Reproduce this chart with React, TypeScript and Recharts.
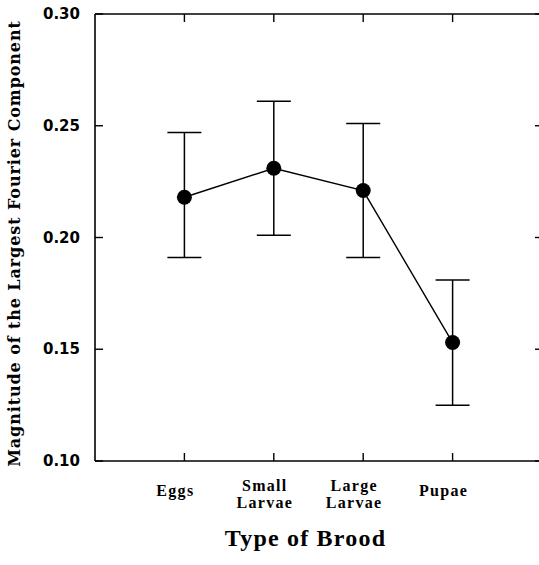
import { LineChart, Line, XAxis, YAxis, ErrorBar, Label } from 'recharts';

const categories = ['Eggs', 'Small Larvae', 'Large Larvae', 'Pupae'];
const positions = [1, 2, 3, 4];
const means = [0.218, 0.231, 0.221, 0.153];
const lower = [0.191, 0.201, 0.191, 0.125];
const upper = [0.247, 0.261, 0.251, 0.181];
const yTicks = [0.1, 0.15, 0.2, 0.25, 0.3];

const data = positions.map((x, i) => ({
  x,
  y: means[i],
  err: [means[i] - lower[i], upper[i] - means[i]],
}));

const serif = '"Liberation Serif", "Times New Roman", serif';
const CHART_W = 545;
const M = { top: 13, right: 3, bottom: 0, left: 0 };
const PLOT_TOP = M.top + 1; // top axis is 1px tall
const PLOT_RIGHT = CHART_W - M.right;
const TICK = 8;
const MARGIN_X = 24;
const MARGIN_Y = 15;

// bottom axis: inward ticks (bottom + top frame) and category label
const CategoryTick = (props: any) => {
  const { x, y, index } = props;
  const axisY = y - MARGIN_X;
  const words = categories[index].split(' ');
  const lx = x - 9;
  return (
    <g>
      <line x1={x} x2={x} y1={axisY} y2={axisY - TICK} stroke="#000" strokeWidth={1.4} />
      <line x1={x} x2={x} y1={PLOT_TOP} y2={PLOT_TOP + TICK} stroke="#000" strokeWidth={1.4} />
      <text
        x={lx}
        y={y}
        textAnchor="middle"
        fontFamily={serif}
        fontWeight="bold"
        fontSize={16}
        letterSpacing={1.3}
        fill="#000"
      >
        {words.length > 1 ? (
          <>
            <tspan x={lx} dy={6}>{words[0]}</tspan>
            <tspan x={lx} dy={17}>{words[1]}</tspan>
          </>
        ) : (
          <tspan x={lx} dy={11}>{words[0]}</tspan>
        )}
      </text>
    </g>
  );
};

// left axis: inward ticks (left + right frame) and value label
const LeftTick = (props: any) => {
  const { x, y, payload } = props;
  const axisX = x + MARGIN_Y;
  return (
    <g>
      <line x1={axisX} x2={axisX + TICK} y1={y} y2={y} stroke="#000" strokeWidth={1.4} />
      <line x1={PLOT_RIGHT} x2={PLOT_RIGHT - 7} y1={y} y2={y} stroke="#000" strokeWidth={1.4} />
      <text
        x={x}
        y={y}
        dy={5}
        textAnchor="end"
        fontFamily='"DejaVu Sans", sans-serif'
        fontWeight="bold"
        fontSize={15}
        fill="#000"
      >
        {Number(payload.value).toFixed(2)}
      </text>
    </g>
  );
};

export default function App() {
  return (
    <div style={{ position: 'absolute', left: 0, top: 0, width: 539, height: 565, overflow: 'hidden', background: '#fff' }}>
      <LineChart width={CHART_W} height={565} data={data} margin={M}>
        <XAxis
          xAxisId="b"
          dataKey="x"
          type="number"
          domain={[0, 5]}
          ticks={positions}
          interval={0}
          orientation="bottom"
          height={104}
          tickSize={0}
          tickMargin={MARGIN_X}
          axisLine={{ stroke: '#000', strokeWidth: 1.6 }}
          tickLine={false}
          tick={<CategoryTick />}
        >
          <Label
            content={(p: any) => {
              const vb = p.viewBox;
              return (
                <text
                  x={vb.x + vb.width / 2 - 13}
                  y={vb.y + 85}
                  textAnchor="middle"
                  fontFamily={serif}
                  fontWeight="bold"
                  fontSize={24}
                  letterSpacing={1.2}
                  fill="#000"
                >
                  Type of Brood
                </text>
              );
            }}
          />
        </XAxis>
        <XAxis
          xAxisId="t"
          type="number"
          domain={[0, 5]}
          orientation="top"
          height={1}
          tick={false}
          tickLine={false}
          axisLine={{ stroke: '#000', strokeWidth: 1.6 }}
        />
        <YAxis
          yAxisId="l"
          type="number"
          domain={[0.1, 0.3]}
          ticks={yTicks}
          interval={0}
          width={95}
          tickSize={0}
          tickMargin={MARGIN_Y}
          axisLine={{ stroke: '#000', strokeWidth: 1.6 }}
          tickLine={false}
          tick={<LeftTick />}
        >
          <Label
            content={(p: any) => {
              const vb = p.viewBox;
              const cy = vb.y + vb.height / 2 + 6;
              return (
                <text
                  x={20}
                  y={cy}
                  transform={`rotate(-90, 20, ${cy})`}
                  textAnchor="middle"
                  fontFamily='"DejaVu Serif", serif'
                  fontWeight="bold"
                  fontSize={16}
                  letterSpacing={0.9}
                  fill="#000"
                >
                  Magnitude of the Largest Fourier Component
                </text>
              );
            }}
          />
        </YAxis>
        <Line
          xAxisId="b"
          yAxisId="l"
          dataKey="y"
          type="linear"
          stroke="#000"
          strokeWidth={1.4}
          dot={{ r: 7.5, fill: '#000', stroke: '#000', strokeWidth: 0 }}
          activeDot={false}
          isAnimationActive={false}
        >
          <ErrorBar dataKey="err" direction="y" width={17} stroke="#000" strokeWidth={1.5} />
        </Line>
      </LineChart>
    </div>
  );
}
